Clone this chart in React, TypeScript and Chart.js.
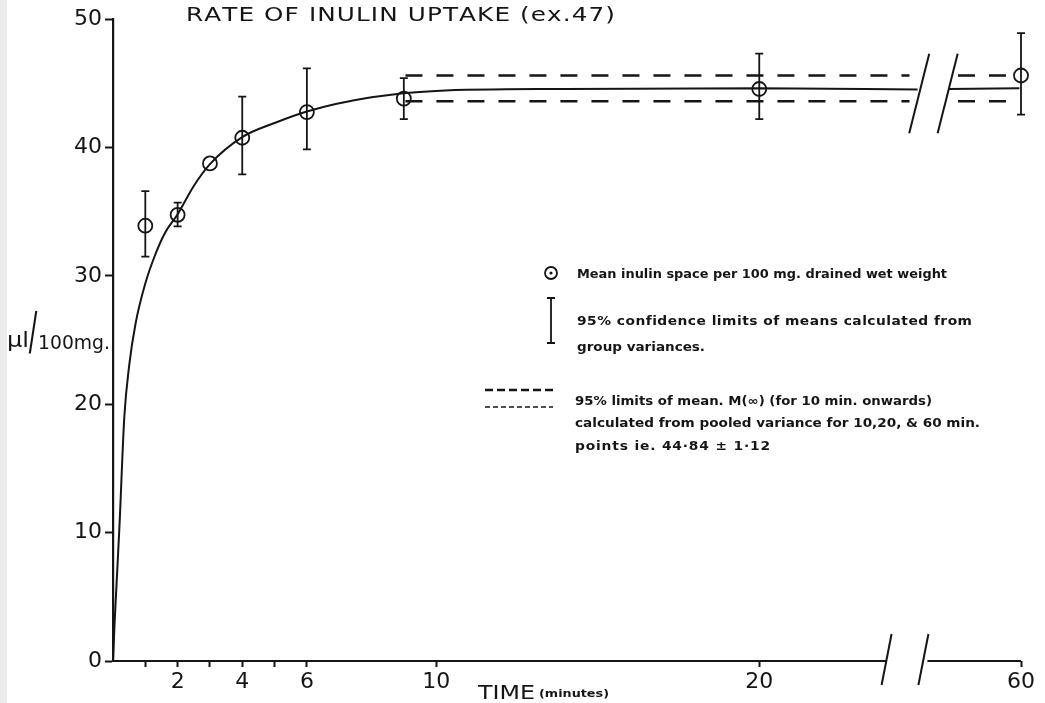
import React, { useEffect, useRef } from 'react';
import { Chart, registerables } from 'chart.js';

Chart.register(...registerables);

// ---- data ----
const meanTimes = [1, 2, 3, 4, 6, 9, 20, 60];
const meanValues = [33.9, 34.75, 38.75, 40.75, 42.75, 43.8, 44.55, 45.6];
const ciHigh: (number | null)[] = [36.6, 35.7, null, 43.95, 46.15, 45.4, 47.3, 48.9];
const ciLow: (number | null)[] = [31.5, 33.85, null, 37.9, 39.85, 42.2, 42.2, 42.55];

// fitted curve (hand drawn), minutes -> µl/100mg
const curveTimes = [0, 0.05, 0.1, 0.2, 0.35, 0.5, 0.7, 1.0, 1.3, 1.6, 2, 2.5, 3, 4, 5, 6, 8, 10, 14, 20, 24.9];
const curveValues = [0, 3, 5.5, 10.5, 19, 23, 26.3, 29.4, 31.6, 33.3, 34.8, 37, 38.7, 40.8, 41.9, 42.8, 43.9, 44.4, 44.55, 44.6, 44.5];
// curve continued after the axis break (axis units)
const curveAfterBreakPos = [25.85, 28.05];
const curveAfterBreakValues = [44.55, 44.6];

// 95% limits of M(∞)
const upperLimit = 45.6;
const lowerLimit = 43.6;
const limitSegments = [[9.05, 24.65], [26.15, 27.67]];

// x ticks (broken axis: 60 min sits at axis position 28.1)
const xTickValues = [1, 2, 3, 4, 5, 6, 10, 20, 60];
const xTickLabels = ['', '2', '', '4', '', '6', '10', '20', '60'];
const brokenAxisPositions: Record<number, number> = { 60: 28.1 };
const X_MAX = 28.1;
const axisBreak = [23.94, 25.08];
const curveBreak = [24.95, 25.83];

const toAxis = (t: number) => (brokenAxisPositions[t] !== undefined ? brokenAxisPositions[t] : t);

const INK = '#151515';
const FONT = '"DejaVu Sans", sans-serif';

// draws text so that it spans `width`, by widening glyphs (up to maxScale) and then spacing them
function fitText(
  ctx: CanvasRenderingContext2D,
  text: string,
  x: number,
  y: number,
  width: number,
  font: string,
  maxScale = 1.2
) {
  ctx.font = font;
  const chars = [...text];
  const widths = chars.map((c) => ctx.measureText(c).width);
  const total = widths.reduce((a, b) => a + b, 0);
  const s = Math.max(0.7, Math.min(maxScale, width / total));
  const gap = chars.length > 1 ? (width - total * s) / (chars.length - 1) : 0;
  let cx = x;
  chars.forEach((c, i) => {
    ctx.save();
    ctx.translate(cx, y);
    ctx.scale(s, 1);
    ctx.fillText(c, 0, 0);
    ctx.restore();
    cx += widths[i] * s + gap;
  });
}

const decorPlugin = {
  id: 'decor',
  beforeDraw(chart: any) {
    const { ctx, width, height } = chart;
    ctx.save();
    ctx.fillStyle = '#ffffff';
    ctx.fillRect(0, 0, width, height);
    ctx.fillStyle = '#ebebeb';
    ctx.fillRect(0, 0, 7, height);
    ctx.restore();
  },
  afterDatasetsDraw(chart: any) {
    const { ctx, scales } = chart;
    const x = scales.x;
    const y = scales.y;
    ctx.save();
    ctx.strokeStyle = INK;
    ctx.fillStyle = INK;
    ctx.lineCap = 'butt';

    // error bars
    ctx.lineWidth = 1.8;
    meanTimes.forEach((t, i) => {
      const hi = ciHigh[i];
      const lo = ciLow[i];
      if (hi == null || lo == null) return;
      const px = x.getPixelForValue(toAxis(t));
      const pyH = y.getPixelForValue(hi);
      const pyL = y.getPixelForValue(lo);
      ctx.beginPath();
      ctx.moveTo(px, pyH);
      ctx.lineTo(px, pyL);
      ctx.moveTo(px - 4, pyH);
      ctx.lineTo(px + 4, pyH);
      ctx.moveTo(px - 4, pyL);
      ctx.lineTo(px + 4, pyL);
      ctx.stroke();
    });

    // broken x axis line
    const y0 = y.getPixelForValue(0);
    ctx.lineWidth = 2.2;
    ctx.beginPath();
    ctx.moveTo(x.getPixelForValue(0), y0);
    ctx.lineTo(x.getPixelForValue(axisBreak[0]), y0);
    ctx.moveTo(x.getPixelForValue(axisBreak[1]) + 4, y0);
    ctx.lineTo(x.getPixelForValue(X_MAX), y0);
    ctx.stroke();
    // axis break slashes
    ctx.lineWidth = 2;
    axisBreak.forEach((b) => {
      const px = x.getPixelForValue(b);
      ctx.beginPath();
      ctx.moveTo(px + 5, y0 - 27);
      ctx.lineTo(px - 5, y0 + 24);
      ctx.stroke();
    });
    // curve break slashes
    curveBreak.forEach((b) => {
      const px = x.getPixelForValue(b);
      const top = y.getPixelForValue(47.3);
      const bot = y.getPixelForValue(41.1);
      ctx.beginPath();
      ctx.moveTo(px + 10, top);
      ctx.lineTo(px - 10, bot);
      ctx.stroke();
    });

    // title
    ctx.textBaseline = 'middle';
    ctx.textAlign = 'left';
    fitText(ctx, 'RATE OF INULIN UPTAKE (ex.47)', 186, 16, 429, `19px ${FONT}`, 1.3);

    // y-axis title
    ctx.textBaseline = 'alphabetic';
    fitText(ctx, 'µl', 7, 347, 22, `22px ${FONT}`);
    ctx.save();
    ctx.translate(33, 336);
    ctx.scale(0.85, 1.7);
    ctx.font = `30px ${FONT}`;
    ctx.textAlign = 'center';
    ctx.textBaseline = 'middle';
    ctx.fillText('/', 0, 0);
    ctx.restore();
    fitText(ctx, '100mg.', 38, 349, 72, `20px ${FONT}`);

    // x-axis title
    fitText(ctx, 'TIME', 478, 699, 57, `20px ${FONT}`);
    fitText(ctx, '(minutes)', 539, 697, 70, `bold 11px ${FONT}`, 1.3);

    // legend annotations
    ctx.lineWidth = 1.8;
    ctx.beginPath();
    ctx.arc(551, 273, 6, 0, Math.PI * 2);
    ctx.stroke();
    ctx.beginPath();
    ctx.arc(551, 273, 1.6, 0, Math.PI * 2);
    ctx.fill();

    ctx.beginPath();
    ctx.moveTo(551, 298);
    ctx.lineTo(551, 343);
    ctx.moveTo(547, 298);
    ctx.lineTo(555, 298);
    ctx.moveTo(547, 343);
    ctx.lineTo(555, 343);
    ctx.stroke();

    ctx.lineWidth = 2.4;
    ctx.setLineDash([8, 4]);
    ctx.beginPath();
    ctx.moveTo(485, 390);
    ctx.lineTo(553, 390);
    ctx.stroke();
    ctx.lineWidth = 1.6;
    ctx.setLineDash([5, 3]);
    ctx.beginPath();
    ctx.moveTo(485, 407);
    ctx.lineTo(553, 407);
    ctx.stroke();
    ctx.setLineDash([]);

    ctx.textBaseline = 'middle';
    const lf = `bold 12px ${FONT}`;
    fitText(ctx, 'Mean inulin space per 100 mg. drained wet weight', 577, 275, 370, lf, 1.15);
    fitText(ctx, '95% confidence limits of means calculated from', 577, 322, 395, lf, 1.15);
    fitText(ctx, 'group variances.', 577, 348, 128, lf, 1.15);
    fitText(ctx, '95% limits of mean. M(∞) (for 10 min. onwards)', 575, 402, 357, lf, 1.15);
    fitText(ctx, 'calculated from pooled variance for 10,20, & 60 min.', 575, 424, 405, lf, 1.15);
    fitText(ctx, 'points ie. 44·84 ± 1·12', 575, 447, 195, lf, 1.15);

    ctx.restore();
  },
};

export default function App() {
  const canvasRef = useRef<HTMLCanvasElement | null>(null);

  useEffect(() => {
    document.body.style.margin = '0';
    const canvas = canvasRef.current;
    if (!canvas) return;

    const curveData: { x: number; y: number | null }[] = curveTimes.map((t, i) => ({ x: t, y: curveValues[i] }));
    curveData.push({ x: (curveBreak[0] + curveBreak[1]) / 2, y: null });
    curveAfterBreakPos.forEach((p, i) => curveData.push({ x: p, y: curveAfterBreakValues[i] }));

    const limitData = (v: number) => {
      const d: { x: number; y: number | null }[] = [];
      limitSegments.forEach((seg, i) => {
        if (i > 0) d.push({ x: (limitSegments[i - 1][1] + seg[0]) / 2, y: null });
        d.push({ x: seg[0], y: v }, { x: seg[1], y: v });
      });
      return d;
    };

    const chart = new Chart(canvas, {
      type: 'line',
      data: {
        datasets: [
          {
            label: 'curve',
            data: curveData as any,
            borderColor: INK,
            borderWidth: 2,
            pointRadius: 0,
            cubicInterpolationMode: 'monotone',
            spanGaps: false,
            fill: false,
          },
          {
            label: 'upper',
            data: limitData(upperLimit) as any,
            borderColor: INK,
            borderWidth: 2.4,
            borderDash: [17, 14],
            pointRadius: 0,
            spanGaps: false,
          },
          {
            label: 'lower',
            data: limitData(lowerLimit) as any,
            borderColor: INK,
            borderWidth: 2.4,
            borderDash: [17, 14],
            pointRadius: 0,
            spanGaps: false,
          },
          {
            label: 'means',
            data: meanTimes.map((t, i) => ({ x: toAxis(t), y: meanValues[i] })) as any,
            showLine: false,
            clip: false,
            pointRadius: 7,
            pointBorderWidth: 1.8,
            pointBorderColor: INK,
            pointBackgroundColor: 'rgba(0,0,0,0)',
          } as any,
        ],
      },
      options: {
        animation: false,
        responsive: false,
        events: [],
        layout: { padding: { top: 19, right: 24, left: 0, bottom: 0 } },
        plugins: { legend: { display: false }, tooltip: { enabled: false }, title: { display: false } },
        scales: {
          x: {
            type: 'linear',
            min: 0,
            max: X_MAX,
            afterBuildTicks: (scale: any) => {
              scale.ticks = xTickValues.map((v) => ({ value: toAxis(v) }));
            },
            afterFit: (scale: any) => {
              scale.height = 42;
            },
            border: { display: false },
            grid: { drawOnChartArea: false, drawTicks: true, tickLength: 6, tickColor: INK, tickWidth: 2 },
            ticks: {
              autoSkip: false,
              maxRotation: 0,
              padding: 2,
              color: INK,
              font: { family: FONT, size: 22 },
              callback: (_v: any, i: number) => xTickLabels[i],
            },
          },
          y: {
            min: 0,
            max: 50,
            afterFit: (scale: any) => {
              scale.width = 113;
            },
            border: { display: true, color: INK, width: 2.2 },
            grid: { drawOnChartArea: false, drawTicks: true, tickLength: 8, tickColor: INK, tickWidth: 2 },
            ticks: {
              stepSize: 10,
              padding: 3,
              color: INK,
              font: { family: FONT, size: 22 },
            },
          },
        },
      },
      plugins: [decorPlugin],
    });

    return () => chart.destroy();
  }, []);

  return (
    <canvas
      ref={canvasRef}
      width={1045}
      height={703}
      style={{ position: 'fixed', left: 0, top: 0, display: 'block' }}
    />
  );
}
